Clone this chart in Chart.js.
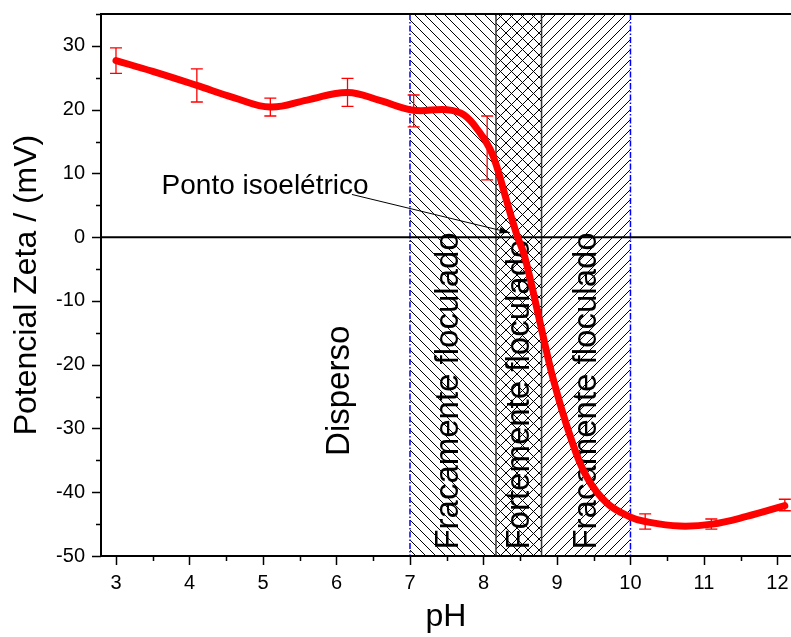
<!DOCTYPE html>
<html>
<head>
<meta charset="utf-8">
<title>Potencial Zeta x pH</title>
<script src="https://cdn.jsdelivr.net/npm/chart.js"></script>
<style>
  body { margin: 0; background: #fff; }
  #wrap { width: 791px; height: 637px; }
</style>
</head>
<body>
<div id="wrap"><canvas id="zetaChart"></canvas></div>
<script>
// measured points with error bars
const pointPH   = [3.0, 4.1, 5.1, 6.15, 7.05, 8.05, 10.2, 11.1, 12.1];
const pointZeta = [27.7, 23.8, 20.4, 22.7, 19.8, 14.0, -44.6, -45.0, -42.0];
const pointErr  = [2.0, 2.6, 1.4, 2.2, 2.5, 5.0, 1.2, 0.8, 0.9];

// smoothed curve
const curvePH   = [3.0, 3.5, 4.1, 4.6, 5.1, 5.6, 6.15, 6.6, 7.05, 7.5, 7.73, 7.95, 8.09, 8.18, 8.31, 8.45, 8.56, 8.77, 8.95, 9.18, 9.4, 9.68, 10.0, 10.2, 10.67, 11.11, 11.58, 12.1];
const curveZeta = [27.7, 26.0, 23.8, 21.9, 20.4, 21.5, 22.7, 21.4, 19.9, 20.0, 19.2, 16.4, 13.8, 11.1, 5.9, 0.5, -3.0, -13.4, -22.3, -31.2, -37.5, -41.7, -43.9, -44.6, -45.3, -45.0, -43.8, -42.1];

// flocculation zones
const regionEdges  = [7.0, 8.17, 8.79, 10.0];
const regionLabels = ['Fracamente floculado', 'Fortemente floculado', 'Fracamente floculado'];

const xTicks = [3, 4, 5, 6, 7, 8, 9, 10, 11, 12];
const yTicks = [-50, -40, -30, -20, -10, 0, 10, 20, 30];

// text placement (data coords)
const regionLabelPH = [7.53, 8.50, 9.41];
const regionLabelBottom = -49.0;
const dispersoPos = {ph: 6.05, zeta: -24.1};
const isoNote = {text: 'Ponto isoelétrico', ph: 3.62, zeta: 6.7, fromPH: 6.21, fromZeta: 6.7, toPH: 8.36, toZeta: 0.7};

const FONT = "'Liberation Sans', Arial, sans-serif";

function hatch(kind, s) {
    const c = document.createElement('canvas');
    c.width = s; c.height = s;
    const g = c.getContext('2d');
    g.strokeStyle = '#000';
    g.lineWidth = 1;
    g.beginPath();
    for (let k = -1; k <= 1; k++) {
        if (kind === 'back' || kind === 'cross') { g.moveTo(k * s, 0); g.lineTo(k * s + s, s); }
        if (kind === 'fwd' || kind === 'cross') { g.moveTo(k * s, s); g.lineTo(k * s + s, 0); }
    }
    g.stroke();
    return c;
}

// keep chartArea where the figure has it
function noPad(s) {
    s.paddingLeft = 0; s.paddingRight = 0; s.paddingTop = 0; s.paddingBottom = 0;
}

const decor = {
    id: 'decor',
    beforeDatasetsDraw(chart) {
        const {ctx, chartArea: a, scales: {x, y}} = chart;
        ctx.save();
        ctx.beginPath();
        ctx.rect(a.left, a.top, a.right - a.left, a.bottom - a.top);
        ctx.clip();

        const tiles = [hatch('back', 10), hatch('cross', 11), hatch('fwd', 10)];
        for (let i = 0; i < 3; i++) {
            const x0 = x.getPixelForValue(regionEdges[i]);
            const x1 = x.getPixelForValue(regionEdges[i + 1]);
            ctx.fillStyle = ctx.createPattern(tiles[i], 'repeat');
            ctx.fillRect(x0, a.top, x1 - x0, a.bottom - a.top);
        }

        // inner zone borders
        ctx.strokeStyle = '#333';
        ctx.lineWidth = 1.5;
        [regionEdges[1], regionEdges[2]].forEach(v => {
            const px = x.getPixelForValue(v);
            ctx.beginPath(); ctx.moveTo(px, a.top); ctx.lineTo(px, a.bottom); ctx.stroke();
        });
        // blue dash-dot limits
        ctx.strokeStyle = '#0000ff';
        ctx.setLineDash([6, 2, 1.5, 2]);
        [regionEdges[0], regionEdges[3]].forEach(v => {
            const px = x.getPixelForValue(v);
            ctx.beginPath(); ctx.moveTo(px, a.top); ctx.lineTo(px, a.bottom); ctx.stroke();
        });
        ctx.setLineDash([]);

        // zero line
        const y0 = y.getPixelForValue(0);
        ctx.strokeStyle = '#000';
        ctx.lineWidth = 2;
        ctx.beginPath(); ctx.moveTo(a.left, y0); ctx.lineTo(a.right, y0); ctx.stroke();

        // vertical texts
        ctx.fillStyle = '#000';
        ctx.font = '33px ' + FONT;
        ctx.textBaseline = 'middle';
        regionLabels.forEach((t, i) => {
            ctx.save();
            ctx.translate(x.getPixelForValue(regionLabelPH[i]), y.getPixelForValue(regionLabelBottom));
            ctx.rotate(-Math.PI / 2);
            ctx.textAlign = 'left';
            ctx.fillText(t, 0, 0);
            ctx.restore();
        });
        ctx.save();
        ctx.translate(x.getPixelForValue(dispersoPos.ph), y.getPixelForValue(dispersoPos.zeta));
        ctx.rotate(-Math.PI / 2);
        ctx.textAlign = 'center';
        ctx.fillText('Disperso', 0, 0);
        ctx.restore();

        ctx.restore();
    },
    afterDatasetsDraw(chart) {
        const {ctx, scales: {x, y}} = chart;
        ctx.save();
        ctx.strokeStyle = '#ff0000';
        ctx.lineWidth = 1.3;
        pointPH.forEach((ph, i) => {
            const px = x.getPixelForValue(ph);
            const hi = y.getPixelForValue(pointZeta[i] + pointErr[i]);
            const lo = y.getPixelForValue(pointZeta[i] - pointErr[i]);
            ctx.beginPath();
            ctx.moveTo(px, hi); ctx.lineTo(px, lo);
            ctx.moveTo(px - 6, hi); ctx.lineTo(px + 6, hi);
            ctx.moveTo(px - 6, lo); ctx.lineTo(px + 6, lo);
            ctx.stroke();
        });
        ctx.restore();
    },
    afterDraw(chart) {
        const {ctx, chartArea: a, scales: {x, y}} = chart;
        ctx.save();
        ctx.strokeStyle = '#000';
        ctx.lineWidth = 2;
        // frame: left, bottom, top
        ctx.beginPath();
        ctx.moveTo(a.left, a.top); ctx.lineTo(chart.width, a.top);
        ctx.moveTo(a.left, a.top - 1); ctx.lineTo(a.left, a.bottom + 1);
        ctx.moveTo(a.left - 1, a.bottom); ctx.lineTo(chart.width, a.bottom);
        ctx.stroke();
        // tick marks, major + minor
        ctx.lineWidth = 1.5;
        ctx.beginPath();
        for (let v = 3; v <= 12.01; v += 0.5) {
            const px = Math.round(x.getPixelForValue(v)) + 0.5;
            const len = Number.isInteger(v) ? 9 : 5;
            ctx.moveTo(px, a.bottom); ctx.lineTo(px, a.bottom + len);
        }
        for (let v = -50; v <= 35; v += 5) {
            const py = Math.round(y.getPixelForValue(v)) + 0.5;
            const len = v % 10 === 0 ? 9 : 5;
            ctx.moveTo(a.left, py); ctx.lineTo(a.left - len, py);
        }
        ctx.stroke();

        // isoelectric point note
        ctx.fillStyle = '#000';
        ctx.font = '28px ' + FONT;
        ctx.textBaseline = 'alphabetic';
        ctx.textAlign = 'left';
        ctx.fillText(isoNote.text, x.getPixelForValue(isoNote.ph), y.getPixelForValue(isoNote.zeta));
        const fx = x.getPixelForValue(isoNote.fromPH), fy = y.getPixelForValue(isoNote.fromZeta);
        const tx = x.getPixelForValue(isoNote.toPH), ty = y.getPixelForValue(isoNote.toZeta);
        ctx.lineWidth = 1;
        ctx.beginPath(); ctx.moveTo(fx, fy); ctx.lineTo(tx, ty); ctx.stroke();
        const ang = Math.atan2(ty - fy, tx - fx);
        ctx.beginPath();
        ctx.moveTo(tx, ty);
        ctx.lineTo(tx - 11 * Math.cos(ang - 0.3), ty - 11 * Math.sin(ang - 0.3));
        ctx.lineTo(tx - 11 * Math.cos(ang + 0.3), ty - 11 * Math.sin(ang + 0.3));
        ctx.closePath();
        ctx.fill();
        ctx.restore();
    }
};

const curveData = curvePH.map((v, i) => ({x: v, y: curveZeta[i]}));
const pointData = pointPH.map((v, i) => ({x: v, y: pointZeta[i]}));

new Chart(document.getElementById('zetaChart'), {
    type: 'scatter',
    data: {
        datasets: [{
            label: 'curva',
            data: curveData,
            showLine: true,
            borderColor: '#ff0000',
            borderWidth: 7,
            pointRadius: 0,
            tension: 0.4,
            borderCapStyle: 'round',
            borderJoinStyle: 'round'
        }, {
            label: 'medidas',
            data: pointData,
            pointRadius: 0,
            showLine: false
        }]
    },
    options: {
        responsive: true,
        maintainAspectRatio: false,
        animation: false,
        layout: {padding: {top: 14, right: 0, left: 0, bottom: 0}},
        plugins: {legend: {display: false}, tooltip: {enabled: false}},
        scales: {
            x: {
                type: 'linear',
                min: 2.796,
                max: 12.184,
                afterBuildTicks: s => { s.ticks = xTicks.map(v => ({value: v})); },
                afterFit: s => { s.height = 81; noPad(s); },
                grid: {display: false, drawTicks: false},
                border: {display: false},
                ticks: {color: '#000', font: {family: FONT, size: 20}, padding: 15, maxRotation: 0},
                title: {display: true, text: 'pH', color: '#000', font: {family: FONT, size: 32}, padding: {top: 0, bottom: 1}}
            },
            y: {
                min: -50,
                max: 35,
                afterBuildTicks: s => { s.ticks = yTicks.map(v => ({value: v})); },
                afterFit: s => { s.width = 101; noPad(s); },
                grid: {display: false, drawTicks: false},
                border: {display: false},
                ticks: {color: '#000', font: {family: FONT, size: 20}, padding: 16},
                title: {display: true, text: 'Potencial Zeta / (mV)', color: '#000', font: {family: FONT, size: 32}, padding: {top: 8, bottom: 0}}
            }
        }
    },
    plugins: [decor]
});
</script>
</body>
</html>
